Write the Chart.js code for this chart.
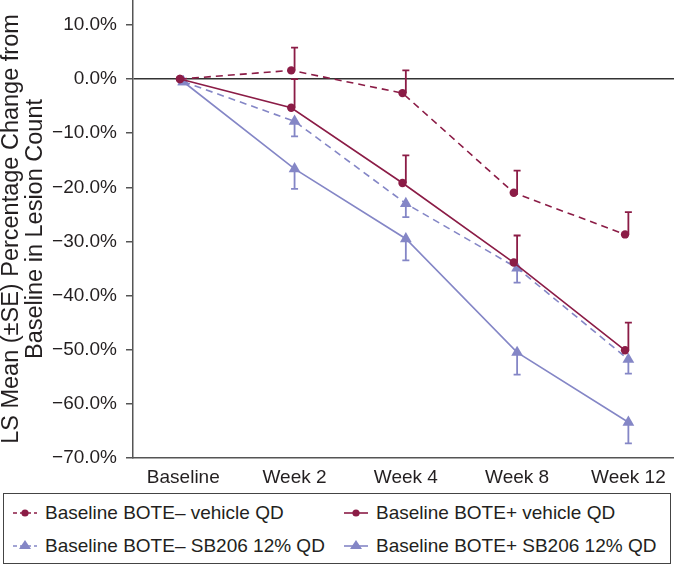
<!DOCTYPE html>
<html lang="en">
  <head>
    <meta charset="UTF-8" />
    <title>LS Mean Percentage Change in Lesion Count</title>
    <script src="https://cdn.jsdelivr.net/npm/chart.js@4"></script>
    <style>
      body {
        margin: 0;
        background: #fff;
        font-family: "Liberation Sans", Arial, sans-serif;
      }
      #wrap {
        position: relative;
        width: 674px;
        height: 565px;
      }
      #chartBox {
        position: absolute;
        left: 0;
        top: 0;
        width: 674px;
        height: 490px;
      }
      #legendBox {
        position: absolute;
        left: 3px;
        top: 493px;
        width: 668px;
        height: 71px;
        border: 1.5px solid #444;
        box-sizing: border-box;
      }
      .item {
        position: absolute;
        height: 24px;
        display: flex;
        align-items: center;
        font-size: 19px;
        color: #231f20;
        white-space: nowrap;
      }
      .item svg {
        margin-right: 8px;
      }
    </style>
  </head>
  <body>
    <div id="wrap">
      <div id="chartBox"><canvas id="chart"></canvas></div>
      <div id="legendBox"></div>
      <div id="legend"></div>
    </div>
    <script>
      const categories = ["Baseline", "Week 2", "Week 4", "Week 8", "Week 12"];
      const seriesNames = [
        "Baseline BOTE\u2013 vehicle QD",
        "Baseline BOTE+ vehicle QD",
        "Baseline BOTE\u2013 SB206 12% QD",
        "Baseline BOTE+ SB206 12% QD",
      ];
      // LS mean % change, and the end of the SE bar for each visit
      const negVehicle = [0, 1.6, -2.6, -21.0, -28.7];
      const negVehicleUpper = [null, 5.8, 1.6, -16.9, -24.6];
      const posVehicle = [0, -5.3, -19.2, -33.9, -50.1];
      const posVehicleUpper = [null, 0.0, -14.1, -28.9, -45.0];
      const negSB206 = [-0.5, -7.8, -23.0, -34.9, -51.8];
      const negSB206Lower = [null, -10.6, -25.5, -37.6, -54.4];
      const posSB206 = [-0.5, -16.6, -29.5, -50.5, -63.4];
      const posSB206Lower = [null, -20.3, -33.5, -54.6, -67.3];

      const MAROON = "#8b1c46";
      const PURPLE = "#8486c6";
      const TEXT = "#231f20";
      const vehicleShift = -0.03;

      const toPoints = (vals, shift) =>
        vals.map((v, i) => ({ x: i + shift, y: v }));

      const series = [
        { name: seriesNames[1], vals: posVehicle, ends: posVehicleUpper, color: MAROON, dash: [], style: "circle", shift: vehicleShift },
        { name: seriesNames[0], vals: negVehicle, ends: negVehicleUpper, color: MAROON, dash: [7, 5], style: "circle", shift: vehicleShift },
        { name: seriesNames[3], vals: posSB206, ends: posSB206Lower, color: PURPLE, dash: [], style: "triangle", shift: 0 },
        { name: seriesNames[2], vals: negSB206, ends: negSB206Lower, color: PURPLE, dash: [7, 5], style: "triangle", shift: 0 },
      ];

      const datasets = series.map((s) => ({
        label: s.name,
        data: toPoints(s.vals, s.shift),
        errorEnds: s.ends,
        borderColor: s.color,
        backgroundColor: s.color,
        borderWidth: 1.6,
        borderDash: s.dash,
        pointStyle: s.style,
        pointRadius: s.style === "triangle" ? 6.8 : 4.2,
        pointBorderWidth: 0,
        pointBackgroundColor: s.color,
        tension: 0,
      }));

      // SE bars drawn at the visit position, from the mean to its end value
      const errorBars = {
        id: "errorBars",
        beforeDatasetsDraw(chart) {
          const { ctx } = chart;
          const xs = chart.scales.x;
          const ys = chart.scales.y;
          chart.data.datasets.forEach((ds) => {
            ctx.save();
            ctx.strokeStyle = ds.borderColor;
            ctx.lineWidth = 1.8;
            ds.errorEnds.forEach((end, i) => {
              if (end === null) return;
              const px = xs.getPixelForValue(i);
              const y0 = ys.getPixelForValue(ds.data[i].y);
              const y1 = ys.getPixelForValue(end);
              ctx.beginPath();
              ctx.moveTo(px, y0);
              ctx.lineTo(px, y1);
              ctx.moveTo(px - 3.5, y1);
              ctx.lineTo(px + 3.5, y1);
              ctx.stroke();
            });
            ctx.restore();
          });
        },
      };

      Chart.defaults.font.family = '"Liberation Sans", Arial, sans-serif';
      Chart.defaults.color = TEXT;

      new Chart(document.getElementById("chart"), {
        type: "line",
        data: { datasets },
        options: {
          responsive: true,
          maintainAspectRatio: false,
          animation: false,
          layout: { padding: 0, autoPadding: false },
          plugins: {
            legend: { display: false },
            tooltip: { enabled: false },
          },
          scales: {
            x: {
              type: "linear",
              min: -0.452,
              max: 4.41,
              afterFit: (s) => {
                s.height = 32;
                s.paddingLeft = 0;
                s.paddingRight = 0;
              },
              ticks: {
                stepSize: 1,
                includeBounds: false,
                autoSkip: false,
                maxRotation: 0,
                padding: 8,
                font: { size: 19 },
                callback: (v) => (Number.isInteger(v) ? categories[v] : ""),
              },
              grid: { color: "transparent", drawTicks: false },
              border: { color: "#555", width: 1.5 },
            },
            y: {
              min: -70,
              max: 14.6,
              afterFit: (s) => {
                s.width = 133;
                s.paddingTop = 0;
                s.paddingBottom = 0;
              },
              ticks: {
                stepSize: 10,
                includeBounds: false,
                padding: 9,
                font: { size: 19 },
                callback: (v) =>
                  (v < 0 ? "\u2212" : "") + Math.abs(v).toFixed(1) + "%",
              },
              grid: {
                color: (c) =>
                  c.tick && c.tick.value === 0 ? "#333" : "transparent",
                lineWidth: 1.5,
                tickColor: "#555",
                tickLength: 7,
              },
              border: { color: "#555", width: 1.5 },
              title: {
                display: true,
                text: [
                  "LS Mean (\u00b1SE) Percentage Change from",
                  "Baseline in Lesion Count",
                ],
                font: { size: 23.5, lineHeight: 0.98 },
                padding: { top: 0.5, bottom: 0 },
              },
            },
          },
        },
        plugins: [errorBars],
      });

      // legend: two columns inside the box under the chart
      const legendSpots = [
        { left: 13, top: 501 },
        { left: 344, top: 501 },
        { left: 13, top: 534 },
        { left: 344, top: 534 },
      ];
      const legendOrder = [1, 0, 3, 2];
      const legendEl = document.getElementById("legend");
      legendOrder.forEach((si, k) => {
        const s = series[si];
        const dash = s.dash.length ? 'stroke-dasharray="4 3"' : "";
        const marker =
          s.style === "circle"
            ? `<circle cx="12" cy="7" r="3.6" fill="${s.color}"/>`
            : `<polygon points="12,1 18,10 6,10" fill="${s.color}"/>`;
        const div = document.createElement("div");
        div.className = "item";
        div.style.left = legendSpots[k].left + "px";
        div.style.top = legendSpots[k].top + "px";
        div.innerHTML =
          `<svg width="24" height="14"><line x1="0" y1="7" x2="24" y2="7" stroke="${s.color}" stroke-width="1.6" ${dash}/>${marker}</svg>` +
          `<span>${s.name}</span>`;
        legendEl.appendChild(div);
      });
    </script>
  </body>
</html>
